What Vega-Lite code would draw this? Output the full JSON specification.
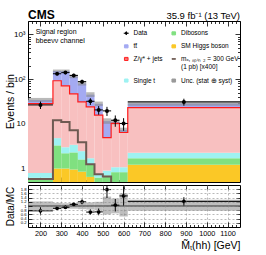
{
  "$schema": "https://vega.github.io/schema/vega-lite/v6.json",
  "background": "white",
  "padding": {"left": 5, "top": 8, "right": 4, "bottom": 0},
  "spacing": 1,
  "config": {
    "font": "Liberation Sans",
    "view": {"stroke": "black", "strokeWidth": 1},
    "axis": {"domain": false, "grid": false, "tickColor": "black", "tickWidth": 0.8, "labelColor": "black", "titleColor": "black", "labelFont": "Liberation Sans", "titleFont": "Liberation Sans", "titleFontWeight": "normal", "labelFlush": false, "labelOverlap": false, "labelBound": false}
  },
  "datasets": {
    "procs": [
      {"p": "higgs", "x0": 140, "x1": 260, "lo": 0.1, "hi": 0.3},
      {"p": "dib", "x0": 140, "x1": 260, "lo": 0.3, "hi": 0.62},
      {"p": "st", "x0": 140, "x1": 260, "lo": 0.62, "hi": 0.8},
      {"p": "dy", "x0": 140, "x1": 260, "lo": 0.8, "hi": 28.3},
      {"p": "tt", "x0": 140, "x1": 260, "lo": 28.3, "hi": 34},
      {"p": "higgs", "x0": 260, "x1": 300, "lo": 0.1, "hi": 1.0},
      {"p": "dib", "x0": 260, "x1": 300, "lo": 1.0, "hi": 3.3},
      {"p": "st", "x0": 260, "x1": 300, "lo": 3.3, "hi": 4.8},
      {"p": "dy", "x0": 260, "x1": 300, "lo": 4.8, "hi": 92},
      {"p": "tt", "x0": 260, "x1": 300, "lo": 92, "hi": 152},
      {"p": "higgs", "x0": 300, "x1": 340, "lo": 0.1, "hi": 1.0},
      {"p": "dib", "x0": 300, "x1": 340, "lo": 1.0, "hi": 2.2},
      {"p": "st", "x0": 300, "x1": 340, "lo": 2.2, "hi": 3.0},
      {"p": "dy", "x0": 300, "x1": 340, "lo": 3.0, "hi": 71},
      {"p": "tt", "x0": 300, "x1": 340, "lo": 71, "hi": 152},
      {"p": "higgs", "x0": 340, "x1": 380, "lo": 0.1, "hi": 0.95},
      {"p": "dib", "x0": 340, "x1": 380, "lo": 0.95, "hi": 2.3},
      {"p": "st", "x0": 340, "x1": 380, "lo": 2.3, "hi": 3.4},
      {"p": "dy", "x0": 340, "x1": 380, "lo": 3.4, "hi": 47},
      {"p": "tt", "x0": 340, "x1": 380, "lo": 47, "hi": 115},
      {"p": "higgs", "x0": 380, "x1": 420, "lo": 0.1, "hi": 0.85},
      {"p": "dib", "x0": 380, "x1": 420, "lo": 0.85, "hi": 1.6},
      {"p": "st", "x0": 380, "x1": 420, "lo": 1.6, "hi": 2.45},
      {"p": "dy", "x0": 380, "x1": 420, "lo": 2.45, "hi": 31},
      {"p": "tt", "x0": 380, "x1": 420, "lo": 31, "hi": 80},
      {"p": "higgs", "x0": 420, "x1": 460, "lo": 0.1, "hi": 0.65},
      {"p": "dib", "x0": 420, "x1": 460, "lo": 0.65, "hi": 1.25},
      {"p": "st", "x0": 420, "x1": 460, "lo": 1.25, "hi": 1.7},
      {"p": "dy", "x0": 420, "x1": 460, "lo": 1.7, "hi": 24},
      {"p": "tt", "x0": 420, "x1": 460, "lo": 24, "hi": 45},
      {"p": "higgs", "x0": 460, "x1": 500, "lo": 0.1, "hi": 0.4},
      {"p": "dib", "x0": 460, "x1": 500, "lo": 0.4, "hi": 0.63},
      {"p": "st", "x0": 460, "x1": 500, "lo": 0.63, "hi": 0.77},
      {"p": "dy", "x0": 460, "x1": 500, "lo": 0.77, "hi": 15.7},
      {"p": "tt", "x0": 460, "x1": 500, "lo": 15.7, "hi": 28},
      {"p": "higgs", "x0": 500, "x1": 540, "lo": 0.1, "hi": 0.3},
      {"p": "dib", "x0": 500, "x1": 540, "lo": 0.3, "hi": 0.7},
      {"p": "st", "x0": 500, "x1": 540, "lo": 0.7, "hi": 0.9},
      {"p": "dy", "x0": 500, "x1": 540, "lo": 0.9, "hi": 4.9},
      {"p": "tt", "x0": 500, "x1": 540, "lo": 4.9, "hi": 11.5},
      {"p": "higgs", "x0": 540, "x1": 580, "lo": 0.1, "hi": 0.3},
      {"p": "dib", "x0": 540, "x1": 580, "lo": 0.3, "hi": 0.83},
      {"p": "st", "x0": 540, "x1": 580, "lo": 0.83, "hi": 1.07},
      {"p": "dy", "x0": 540, "x1": 580, "lo": 1.07, "hi": 10.2},
      {"p": "tt", "x0": 540, "x1": 580, "lo": 10.2, "hi": 11},
      {"p": "higgs", "x0": 580, "x1": 620, "lo": 0.1, "hi": 0.3},
      {"p": "dib", "x0": 580, "x1": 620, "lo": 0.3, "hi": 0.83},
      {"p": "st", "x0": 580, "x1": 620, "lo": 0.83, "hi": 1.07},
      {"p": "dy", "x0": 580, "x1": 620, "lo": 1.07, "hi": 6.4},
      {"p": "tt", "x0": 580, "x1": 620, "lo": 6.4, "hi": 7.3},
      {"p": "higgs", "x0": 620, "x1": 1160, "lo": 0.1, "hi": 1.22},
      {"p": "dib", "x0": 620, "x1": 1160, "lo": 1.22, "hi": 1.7},
      {"p": "st", "x0": 620, "x1": 1160, "lo": 1.7, "hi": 2.25},
      {"p": "dy", "x0": 620, "x1": 1160, "lo": 2.25, "hi": 23},
      {"p": "tt", "x0": 620, "x1": 1160, "lo": 23, "hi": 28.5}
    ],
    "band": [
      {"x0": 140, "x1": 260, "lo": 31, "hi": 38},
      {"x0": 260, "x1": 300, "lo": 142, "hi": 164},
      {"x0": 300, "x1": 340, "lo": 142, "hi": 164},
      {"x0": 340, "x1": 380, "lo": 105, "hi": 126},
      {"x0": 380, "x1": 420, "lo": 72, "hi": 88},
      {"x0": 420, "x1": 460, "lo": 40, "hi": 51},
      {"x0": 460, "x1": 500, "lo": 25, "hi": 31.5},
      {"x0": 500, "x1": 540, "lo": 10, "hi": 13.3},
      {"x0": 540, "x1": 580, "lo": 9.7, "hi": 12.5},
      {"x0": 580, "x1": 620, "lo": 6.6, "hi": 8.2},
      {"x0": 620, "x1": 1160, "lo": 25.5, "hi": 32}
    ],
    "steps": [
      {"x": 140, "z": 28.3, "sig": 0.58},
      {"x": 260, "z": 92, "sig": 12.1},
      {"x": 300, "z": 71, "sig": 11},
      {"x": 340, "z": 47, "sig": 7.2},
      {"x": 380, "z": 31, "sig": 3.9},
      {"x": 420, "z": 24, "sig": 1.25},
      {"x": 460, "z": 15.7, "sig": 0.75},
      {"x": 500, "z": 4.9, "sig": 0.66},
      {"x": 540, "z": 10.2, "sig": 0.2},
      {"x": 580, "z": 6.4, "sig": 0.2},
      {"x": 620, "z": 23, "sig": 0.2},
      {"x": 1160, "z": 23, "sig": 0.2}
    ],
    "obs": [
      {"x": 200, "x0": 140, "x1": 260, "v": 26.5, "lo": 21.5, "hi": 31.5},
      {"x": 280, "x0": 260, "x1": 300, "v": 132, "lo": 121, "hi": 143},
      {"x": 320, "x0": 300, "x1": 340, "v": 140, "lo": 128, "hi": 152},
      {"x": 360, "x0": 340, "x1": 380, "v": 121, "lo": 110, "hi": 132},
      {"x": 400, "x0": 380, "x1": 420, "v": 88, "lo": 79, "hi": 97},
      {"x": 440, "x0": 420, "x1": 460, "v": 32, "lo": 26.5, "hi": 37.5},
      {"x": 480, "x0": 460, "x1": 500, "v": 20.5, "lo": 16, "hi": 25},
      {"x": 520, "x0": 500, "x1": 540, "v": 19.5, "lo": 15, "hi": 24},
      {"x": 560, "x0": 540, "x1": 580, "v": 12, "lo": 8.6, "hi": 15.4},
      {"x": 600, "x0": 580, "x1": 620, "v": 10.2, "lo": 7, "hi": 13.4},
      {"x": 890, "x0": 620, "x1": 1160, "v": 31, "lo": 25.5, "hi": 36.5}
    ],
    "ratio": [
      {"x": 200, "x0": 140, "x1": 260, "r": 0.77, "lo": 0.56, "hi": 0.96},
      {"x": 280, "x0": 260, "x1": 300, "r": 0.89, "lo": 0.81, "hi": 0.97},
      {"x": 320, "x0": 300, "x1": 340, "r": 0.94, "lo": 0.86, "hi": 1.02},
      {"x": 360, "x0": 340, "x1": 380, "r": 1.08, "lo": 0.98, "hi": 1.18},
      {"x": 400, "x0": 380, "x1": 420, "r": 1.2, "lo": 1.08, "hi": 1.32},
      {"x": 440, "x0": 420, "x1": 460, "r": 0.71, "lo": 0.58, "hi": 0.84},
      {"x": 480, "x0": 460, "x1": 500, "r": 0.72, "lo": 0.56, "hi": 0.88},
      {"x": 520, "x0": 500, "x1": 540, "r": 1.78, "lo": 1.38, "hi": 2.2},
      {"x": 560, "x0": 540, "x1": 580, "r": 1.04, "lo": 0.74, "hi": 1.34},
      {"x": 600, "x0": 580, "x1": 620, "r": 1.48, "lo": 1.02, "hi": 1.94},
      {"x": 890, "x0": 620, "x1": 1160, "r": 1.22, "lo": 1.02, "hi": 1.42}
    ],
    "rband": [
      {"x0": 140, "x1": 260, "lo": 0.8, "hi": 1.22},
      {"x0": 260, "x1": 300, "lo": 0.85, "hi": 1.15},
      {"x0": 300, "x1": 340, "lo": 0.87, "hi": 1.13},
      {"x0": 340, "x1": 380, "lo": 0.87, "hi": 1.13},
      {"x0": 380, "x1": 420, "lo": 0.85, "hi": 1.15},
      {"x0": 420, "x1": 460, "lo": 0.83, "hi": 1.17},
      {"x0": 460, "x1": 500, "lo": 0.8, "hi": 1.2},
      {"x0": 500, "x1": 540, "lo": 0.6, "hi": 1.45},
      {"x0": 540, "x1": 580, "lo": 0.65, "hi": 1.35},
      {"x0": 580, "x1": 620, "lo": 0.5, "hi": 1.6},
      {"x0": 620, "x1": 1160, "lo": 0.77, "hi": 1.3}
    ],
    "legitems": [
      {"name": "Data"}, {"name": "tt̄"}, {"name": "Z/γ* + jets"}, {"name": "Single t"},
      {"name": "Dibosons"}, {"name": "SM Higgs boson"}, {"name": "sig"}, {"name": "Unc. (stat ⊕ syst)"}
    ]
  },
  "vconcat": [
    {
      "width": 212,
      "height": 161,
      "resolve": {"axis": {"x": "independent", "y": "independent"}},
      "layer": [
        {
          "data": {"name": "procs"},
          "mark": {"type": "rect", "clip": true},
          "encoding": {
            "x": {"field": "x0", "type": "quantitative", "scale": {"domain": [140, 1160], "nice": false, "zero": false},
                  "axis": {"orient": "bottom", "values": [200, 300, 400, 500, 600, 700, 800, 900, 1000, 1100], "labels": false, "tickSize": -5, "title": null}},
            "x2": {"field": "x1"},
            "y": {"field": "lo", "type": "quantitative", "scale": {"type": "log", "domain": [0.5, 2000], "nice": false},
                  "axis": {"orient": "left", "values": [1, 10, 100, 1000], "tickSize": -5, "labelPadding": 8, "labelFontSize": 8,
                           "labelExpr": "datum.value == 1000 ? '10³' : datum.value == 100 ? '10²' : datum.value == 10 ? '10' : '1'",
                           "title": "Events / bin", "titleFontSize": 10.5, "titleX": -14.5, "titleY": 80, "titleAngle": 270, "titleAlign": "center", "titleBaseline": "alphabetic"}},
            "y2": {"field": "hi"},
            "fill": {"field": "p", "type": "nominal", "scale": {"domain": ["higgs", "dib", "st", "dy", "tt"], "range": ["#fbc826", "#80e080", "#9ef2f2", "#f8c0c0", "#a4aaf2"]}, "legend": null}
          }
        },
        {
          "data": {"name": "band"},
          "mark": {"type": "rect", "clip": true, "color": "#8a8a8a", "opacity": 0.6},
          "encoding": {
            "x": {"field": "x0", "type": "quantitative", "scale": {"domain": [140, 1160], "nice": false, "zero": false},
                  "axis": {"orient": "bottom", "values": [160, 180, 220, 240, 260, 280, 320, 340, 360, 380, 420, 440, 460, 480, 520, 540, 560, 580, 620, 640, 660, 680, 720, 740, 760, 780, 820, 840, 860, 880, 920, 940, 960, 980, 1020, 1040, 1060, 1080, 1120, 1140], "labels": false, "tickSize": -2.5, "title": null}},
            "x2": {"field": "x1"},
            "y": {"field": "lo", "type": "quantitative", "scale": {"type": "log", "domain": [0.5, 2000], "nice": false},
                  "axis": {"orient": "left", "values": [0.6, 0.7, 0.8, 0.9, 2, 3, 4, 5, 6, 7, 8, 9, 20, 30, 40, 50, 60, 70, 80, 90, 200, 300, 400, 500, 600, 700, 800, 900, 2000], "labels": false, "tickSize": -2.5, "title": null}},
            "y2": {"field": "hi"}
          }
        },
        {
          "data": {"name": "steps"},
          "mark": {"type": "line", "interpolate": "step-after", "clip": true, "color": "#6e5a52", "strokeWidth": 2},
          "encoding": {
            "x": {"field": "x", "type": "quantitative", "scale": {"domain": [140, 1160], "nice": false, "zero": false},
                  "axis": {"orient": "top", "values": [200, 300, 400, 500, 600, 700, 800, 900, 1000, 1100], "labels": false, "tickSize": -5, "title": null}},
            "y": {"field": "sig", "type": "quantitative", "scale": {"type": "log", "domain": [0.5, 2000], "nice": false},
                  "axis": {"orient": "right", "values": [1, 10, 100, 1000], "labels": false, "tickSize": -5, "title": null}}
          }
        },
        {
          "data": {"name": "steps"},
          "mark": {"type": "line", "interpolate": "step-after", "clip": true, "color": "#ff1a1a", "strokeWidth": 1.2},
          "encoding": {
            "x": {"field": "x", "type": "quantitative", "scale": {"domain": [140, 1160], "nice": false, "zero": false},
                  "axis": {"orient": "top", "values": [160, 180, 220, 240, 260, 280, 320, 340, 360, 380, 420, 440, 460, 480, 520, 540, 560, 580, 620, 640, 660, 680, 720, 740, 760, 780, 820, 840, 860, 880, 920, 940, 960, 980, 1020, 1040, 1060, 1080, 1120, 1140], "labels": false, "tickSize": -2.5, "title": null}},
            "y": {"field": "z", "type": "quantitative", "scale": {"type": "log", "domain": [0.5, 2000], "nice": false},
                  "axis": {"orient": "right", "values": [0.6, 0.7, 0.8, 0.9, 2, 3, 4, 5, 6, 7, 8, 9, 20, 30, 40, 50, 60, 70, 80, 90, 200, 300, 400, 500, 600, 700, 800, 900, 2000], "labels": false, "tickSize": -2.5, "title": null}}
          }
        },
        {
          "data": {"name": "obs"},
          "mark": {"type": "rule", "clip": true, "color": "black", "strokeWidth": 1},
          "encoding": {
            "x": {"field": "x", "type": "quantitative", "scale": {"domain": [140, 1160], "nice": false, "zero": false}, "axis": null},
            "y": {"field": "lo", "type": "quantitative", "scale": {"type": "log", "domain": [0.5, 2000], "nice": false}, "axis": null},
            "y2": {"field": "hi"}
          }
        },
        {
          "data": {"name": "obs"},
          "mark": {"type": "rule", "clip": true, "color": "black", "strokeWidth": 1},
          "encoding": {
            "x": {"field": "x0", "type": "quantitative", "scale": {"domain": [140, 1160], "nice": false, "zero": false}, "axis": null},
            "x2": {"field": "x1"},
            "y": {"field": "v", "type": "quantitative", "scale": {"type": "log", "domain": [0.5, 2000], "nice": false}, "axis": null}
          }
        },
        {
          "data": {"name": "obs"},
          "mark": {"type": "point", "filled": true, "clip": true, "color": "black", "opacity": 1, "size": 16},
          "encoding": {
            "x": {"field": "x", "type": "quantitative", "scale": {"domain": [140, 1160], "nice": false, "zero": false}, "axis": null},
            "y": {"field": "v", "type": "quantitative", "scale": {"type": "log", "domain": [0.5, 2000], "nice": false}, "axis": null}
          }
        },
        {
          "data": {"name": "legitems"},
          "mark": {"type": "point", "filled": true, "clip": true, "opacity": 1, "strokeWidth": 1},
          "encoding": {
            "x": {"datum": 100, "type": "quantitative", "scale": {"domain": [140, 1160], "nice": false, "zero": false}, "axis": null},
            "y": {"datum": 1, "type": "quantitative", "scale": {"type": "log", "domain": [0.5, 2000], "nice": false}, "axis": null},
            "color": {"field": "name", "type": "nominal",
                      "scale": {"domain": ["Data", "tt̄", "Z/γ* + jets", "Single t", "Dibosons", "SM Higgs boson", "sig", "Unc. (stat ⊕ syst)"],
                                "range": ["#000000", "#a4aaf2", "#f8c0c0", "#9ef2f2", "#80e080", "#fbc826", "#6e5a52", "#9a9a9a"]},
                      "legend": {"orient": "none", "legendX": 95, "legendY": 8.5, "columns": 2, "title": null, "columnPadding": 6.5, "rowPadding": 4.6,
                                 "symbolSize": 13, "labelFontSize": 6.5, "labelOffset": 4, "padding": 0, "labelFont": "Liberation Sans", "labelColor": "black",
                                 "symbolStrokeWidth": 1, "labelLimit": 0,
                                 "labelExpr": "datum.label == 'sig' ? ['mₓ, ₛₚᵢₙ ₂ = 300 GeV', '(1 pb) [x400]'] : datum.label"}},
            "stroke": {"field": "name", "type": "nominal",
                       "scale": {"domain": ["Data", "tt̄", "Z/γ* + jets", "Single t", "Dibosons", "SM Higgs boson", "sig", "Unc. (stat ⊕ syst)"],
                                 "range": ["#000000", "#a4aaf2", "#ff2020", "#9ef2f2", "#80e080", "#fbc826", "#6e5a52", "#9a9a9a"]}},
            "shape": {"field": "name", "type": "nominal",
                      "scale": {"domain": ["Data", "tt̄", "Z/γ* + jets", "Single t", "Dibosons", "SM Higgs boson", "sig", "Unc. (stat ⊕ syst)"],
                                "range": ["M-1.4,0H1.4M0,-1V1M0.55,0A0.55,0.55,0,1,1,-0.55,0A0.55,0.55,0,1,1,0.55,0Z",
                                          "M-1,-0.85H1V0.85H-1Z", "M-1,-0.85H1V0.85H-1ZM-1,0H1", "M-1,-0.85H1V0.85H-1Z",
                                          "M-1,-0.85H1V0.85H-1Z", "M-1,-0.85H1V0.85H-1Z", "M-1,-0.15H1V0.15H-1Z", "M-1,-0.85H1V0.85H-1Z"]}}
          }
        },
        {
          "data": {"values": [{}]},
          "mark": {"type": "text", "align": "left", "baseline": "alphabetic", "fontSize": 12, "fontWeight": "bold", "font": "Liberation Sans", "color": "black"},
          "encoding": {
            "x": {"datum": 140, "type": "quantitative", "scale": {"domain": [140, 1160], "nice": false, "zero": false}, "axis": null},
            "y": {"datum": 2270, "type": "quantitative", "scale": {"type": "log", "domain": [0.5, 2000], "nice": false}, "axis": null},
            "text": {"value": "CMS"}
          }
        },
        {
          "data": {"values": [{}]},
          "mark": {"type": "text", "align": "right", "baseline": "alphabetic", "fontSize": 9.5, "font": "Liberation Sans", "color": "black"},
          "encoding": {
            "x": {"datum": 1160, "type": "quantitative", "scale": {"domain": [140, 1160], "nice": false, "zero": false}, "axis": null},
            "y": {"datum": 2220, "type": "quantitative", "scale": {"type": "log", "domain": [0.5, 2000], "nice": false}, "axis": null},
            "text": {"value": "35.9 fb⁻¹ (13 TeV)"}
          }
        },
        {
          "data": {"values": [{}]},
          "mark": {"type": "text", "align": "left", "baseline": "middle", "fontSize": 7, "font": "Liberation Sans", "color": "black"},
          "encoding": {
            "x": {"datum": 177, "type": "quantitative", "scale": {"domain": [140, 1160], "nice": false, "zero": false}, "axis": null},
            "y": {"datum": 1150, "type": "quantitative", "scale": {"type": "log", "domain": [0.5, 2000], "nice": false}, "axis": null},
            "text": {"value": "Signal region"}
          }
        },
        {
          "data": {"values": [{}]},
          "mark": {"type": "text", "align": "left", "baseline": "middle", "fontSize": 7, "font": "Liberation Sans", "color": "black"},
          "encoding": {
            "x": {"datum": 177, "type": "quantitative", "scale": {"domain": [140, 1160], "nice": false, "zero": false}, "axis": null},
            "y": {"datum": 713, "type": "quantitative", "scale": {"type": "log", "domain": [0.5, 2000], "nice": false}, "axis": null},
            "text": {"value": "bbeeνν channel"}
          }
        }
      ]
    },
    {
      "width": 212,
      "height": 42,
      "resolve": {"axis": {"x": "independent", "y": "independent"}},
      "layer": [
        {
          "data": {"name": "rband"},
          "mark": {"type": "rect", "clip": true, "color": "#a8a8a8", "opacity": 0.75},
          "encoding": {
            "x": {"field": "x0", "type": "quantitative", "scale": {"domain": [140, 1160], "nice": false, "zero": false},
                  "axis": {"orient": "bottom", "values": [200, 300, 400, 500, 600, 700, 800, 900, 1000, 1100], "format": "d", "tickSize": -5, "labelPadding": 7.5, "labelFontSize": 7.3,
                           "grid": true, "gridDash": [2, 2], "gridColor": "#8a8a8a", "gridWidth": 0.6, "zindex": 1,
                           "title": "M̃ₜ(hh) [GeV]", "titleFontSize": 10.5, "titleX": 212, "titleY": 21, "titleAlign": "right", "titleBaseline": "alphabetic", "titleAnchor": "end"}},
            "x2": {"field": "x1"},
            "y": {"field": "lo", "type": "quantitative", "scale": {"domain": [0, 2], "nice": false, "zero": false},
                  "axis": {"orient": "left", "values": [0.2, 0.4, 0.6, 0.8, 1, 1.2, 1.4, 1.6, 1.8], "tickSize": -4, "labelPadding": 6, "labelFontSize": 4.2,
                           "labelExpr": "datum.value == 1 ? '1' : format(datum.value, '.1f')",
                           "grid": true, "gridDash": [2, 2], "gridColor": "#8a8a8a", "gridWidth": 0.6, "zindex": 1,
                           "title": "Data/MC", "titleFontSize": 10, "titleX": -14.5, "titleY": 21, "titleAngle": 270, "titleAlign": "center", "titleBaseline": "alphabetic"}},
            "y2": {"field": "hi"}
          }
        },
        {
          "data": {"values": [{}]},
          "mark": {"type": "rule", "color": "#333333", "strokeWidth": 1},
          "encoding": {
            "y": {"datum": 1, "type": "quantitative", "scale": {"domain": [0, 2], "nice": false, "zero": false}, "axis": null}
          }
        },
        {
          "data": {"name": "ratio"},
          "mark": {"type": "rule", "clip": true, "color": "black", "strokeWidth": 1},
          "encoding": {
            "x": {"field": "x", "type": "quantitative", "scale": {"domain": [140, 1160], "nice": false, "zero": false},
                  "axis": {"orient": "bottom", "values": [160, 180, 220, 240, 260, 280, 320, 340, 360, 380, 420, 440, 460, 480, 520, 540, 560, 580, 620, 640, 660, 680, 720, 740, 760, 780, 820, 840, 860, 880, 920, 940, 960, 980, 1020, 1040, 1060, 1080, 1120, 1140], "labels": false, "tickSize": -2.5, "title": null}},
            "y": {"field": "lo", "type": "quantitative", "scale": {"domain": [0, 2], "nice": false, "zero": false}, "axis": null},
            "y2": {"field": "hi"}
          }
        },
        {
          "data": {"name": "ratio"},
          "mark": {"type": "rule", "clip": true, "color": "black", "strokeWidth": 1},
          "encoding": {
            "x": {"field": "x0", "type": "quantitative", "scale": {"domain": [140, 1160], "nice": false, "zero": false},
                  "axis": {"orient": "top", "values": [200, 300, 400, 500, 600, 700, 800, 900, 1000, 1100], "labels": false, "tickSize": -4, "title": null}},
            "x2": {"field": "x1"},
            "y": {"field": "r", "type": "quantitative", "scale": {"domain": [0, 2], "nice": false, "zero": false},
                  "axis": {"orient": "right", "values": [0.2, 0.4, 0.6, 0.8, 1, 1.2, 1.4, 1.6, 1.8], "labels": false, "tickSize": -4, "title": null}}
          }
        },
        {
          "data": {"name": "ratio"},
          "mark": {"type": "point", "filled": true, "clip": true, "color": "black", "opacity": 1, "size": 14},
          "encoding": {
            "x": {"field": "x", "type": "quantitative", "scale": {"domain": [140, 1160], "nice": false, "zero": false}, "axis": null},
            "y": {"field": "r", "type": "quantitative", "scale": {"domain": [0, 2], "nice": false, "zero": false}, "axis": null}
          }
        }
      ]
    }
  ]
}
